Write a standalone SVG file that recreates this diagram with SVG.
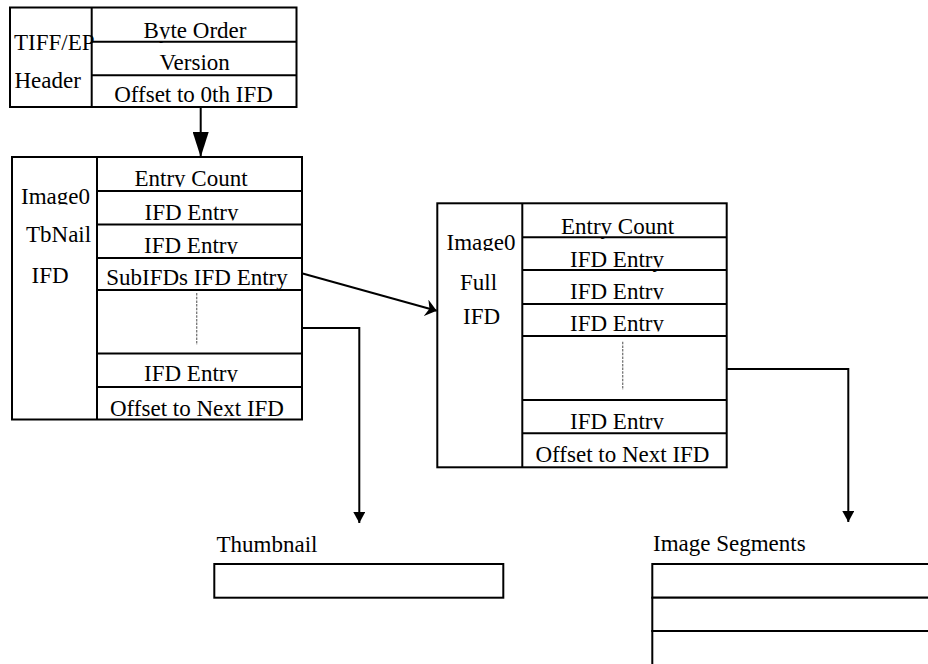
<svg xmlns="http://www.w3.org/2000/svg" width="928" height="664" viewBox="0 0 928 664">
<style>
.box{fill:#fff;stroke:#000;stroke-width:2}
.t{font-family:"Liberation Serif","Times New Roman",serif;font-size:23px;fill:#000}
.c{text-anchor:middle}
.conn{fill:none;stroke:#000;stroke-width:2}
.dash{fill:none;stroke:#777;stroke-width:1.3;stroke-dasharray:2.5 1.2}
</style>
<defs>
<marker id="bigArrow" viewBox="0 0 25 16" refX="25" refY="8" markerWidth="25" markerHeight="16" markerUnits="userSpaceOnUse" orient="auto"><path d="M0,0 L25,8 L0,16 z" fill="#000"/></marker>
<marker id="stealth" viewBox="0 0 11 17" refX="11" refY="8.5" markerWidth="11" markerHeight="17" markerUnits="userSpaceOnUse" orient="auto"><path d="M0,0 L11,8.5 L0,17 L3.5,8.5 z" fill="#000"/></marker>
<marker id="smallArrow" viewBox="0 0 11 12" refX="11" refY="6" markerWidth="11" markerHeight="12" markerUnits="userSpaceOnUse" orient="auto"><path d="M0,0 L11,6 L0,12 z" fill="#000"/></marker>
<clipPath id="clipHeader">
<rect x="92" y="8" width="204" height="31"/>
<rect x="92" y="42" width="204" height="30"/>
<rect x="92" y="76" width="204" height="30"/>
</clipPath>
<clipPath id="clipThumb">
<rect x="97" y="158" width="204" height="29"/>
<rect x="97" y="192" width="204" height="28.5"/>
<rect x="97" y="225" width="204" height="29"/>
<rect x="97" y="259" width="204" height="30"/>
<rect x="97" y="354" width="204" height="28"/>
<rect x="97" y="388" width="204" height="31"/>
<rect x="12" y="158" width="84" height="46.5"/>
<rect x="12" y="210" width="84" height="200"/>
</clipPath>
<clipPath id="clipFull">
<rect x="523" y="204" width="203" height="30.5"/>
<rect x="523" y="238" width="203" height="29.5"/>
<rect x="523" y="271" width="203" height="28.5"/>
<rect x="523" y="305" width="203" height="26.5"/>
<rect x="523" y="401" width="203" height="28.5"/>
<rect x="523" y="434" width="203" height="32"/>
<rect x="438" y="204" width="84" height="47"/>
<rect x="438" y="258" width="84" height="200"/>
</clipPath>
</defs>

<g id="header">
<rect class="box" x="10" y="7.5" width="286.5" height="99.5"/>
<line class="conn" x1="91.7" y1="7.5" x2="91.7" y2="107"/>
<line class="conn" x1="91.7" y1="41.7" x2="296.5" y2="41.7"/>
<line class="conn" x1="91.7" y1="75.3" x2="296.5" y2="75.3"/>
<g clip-path="url(#clipHeader)">
<text class="t c" x="195" y="38">Byte Order</text>
<text class="t c" x="194.7" y="70">Version</text>
<text class="t c" x="193.5" y="102">Offset to 0th IFD</text>
</g>
<text class="t" x="14" y="50">TIFF/EP</text>
<text class="t" x="14.5" y="88.3">Header</text>
</g>

<g id="thumb-ifd">
<rect class="box" x="12" y="157" width="290" height="262.5"/>
<line class="conn" x1="97" y1="157" x2="97" y2="419.5"/>
<line class="conn" x1="97" y1="191" x2="302" y2="191"/>
<line class="conn" x1="97" y1="224.5" x2="302" y2="224.5"/>
<line class="conn" x1="97" y1="258" x2="302" y2="258"/>
<line class="conn" x1="97" y1="290" x2="302" y2="290"/>
<line class="conn" x1="97" y1="353.5" x2="302" y2="353.5"/>
<line class="conn" x1="97" y1="387" x2="302" y2="387"/>
<line class="dash" x1="196.7" y1="293" x2="196.7" y2="345"/>
<g clip-path="url(#clipThumb)">
<text class="t c" x="191" y="186">Entry Count</text>
<text class="t c" x="191.5" y="219.5">IFD Entry</text>
<text class="t c" x="191" y="253">IFD Entry</text>
<text class="t c" x="197" y="285">SubIFDs IFD Entry</text>
<text class="t c" x="191" y="381">IFD Entry</text>
<text class="t c" x="197" y="416">Offset to Next IFD</text>
<text class="t" x="21" y="203.5">Image0</text>
<text class="t" x="26" y="242">TbNail</text>
<text class="t" x="31.5" y="283">IFD</text>
</g>
</g>

<g id="full-ifd">
<rect class="box" x="437.3" y="203.3" width="289.4" height="264"/>
<line class="conn" x1="522.3" y1="203.3" x2="522.3" y2="467.3"/>
<line class="conn" x1="522.3" y1="237.3" x2="726.7" y2="237.3"/>
<line class="conn" x1="522.3" y1="270" x2="726.7" y2="270"/>
<line class="conn" x1="522.3" y1="304" x2="726.7" y2="304"/>
<line class="conn" x1="522.3" y1="336" x2="726.7" y2="336"/>
<line class="conn" x1="522.3" y1="400" x2="726.7" y2="400"/>
<line class="conn" x1="522.3" y1="433.3" x2="726.7" y2="433.3"/>
<line class="dash" x1="622.7" y1="341.7" x2="622.7" y2="390"/>
<g clip-path="url(#clipFull)">
<text class="t c" x="617.5" y="233.5">Entry Count</text>
<text class="t c" x="617" y="266.5">IFD Entry</text>
<text class="t c" x="617" y="298.5">IFD Entry</text>
<text class="t c" x="617" y="330.5">IFD Entry</text>
<text class="t c" x="617" y="428.5">IFD Entry</text>
<text class="t c" x="622.5" y="462">Offset to Next IFD</text>
<text class="t" x="446.5" y="250">Image0</text>
<text class="t" x="460" y="289.5">Full</text>
<text class="t" x="463" y="323.5">IFD</text>
</g>
</g>

<g id="thumbnail">
<text class="t" x="216.5" y="551.7">Thumbnail</text>
<rect class="box" x="214.3" y="564" width="289" height="33.7"/>
</g>

<g id="image-segments">
<text class="t" x="653" y="550.7">Image Segments</text>
<rect class="box" x="652.3" y="564" width="300" height="33.7"/>
<rect class="box" x="652.3" y="597.7" width="300" height="33.3"/>
<rect class="box" x="652.3" y="631" width="300" height="50"/>
</g>

<g id="connectors">
<line class="conn" x1="200.7" y1="107" x2="200.7" y2="157" marker-end="url(#bigArrow)"/>
<line class="conn" x1="301.7" y1="273.3" x2="436.7" y2="310.7" marker-end="url(#stealth)"/>
<polyline class="conn" points="302,328 359.3,328 359.3,523" marker-end="url(#smallArrow)"/>
<polyline class="conn" points="726.7,369 848.3,369 848.3,522" marker-end="url(#smallArrow)"/>
</g>
</svg>
